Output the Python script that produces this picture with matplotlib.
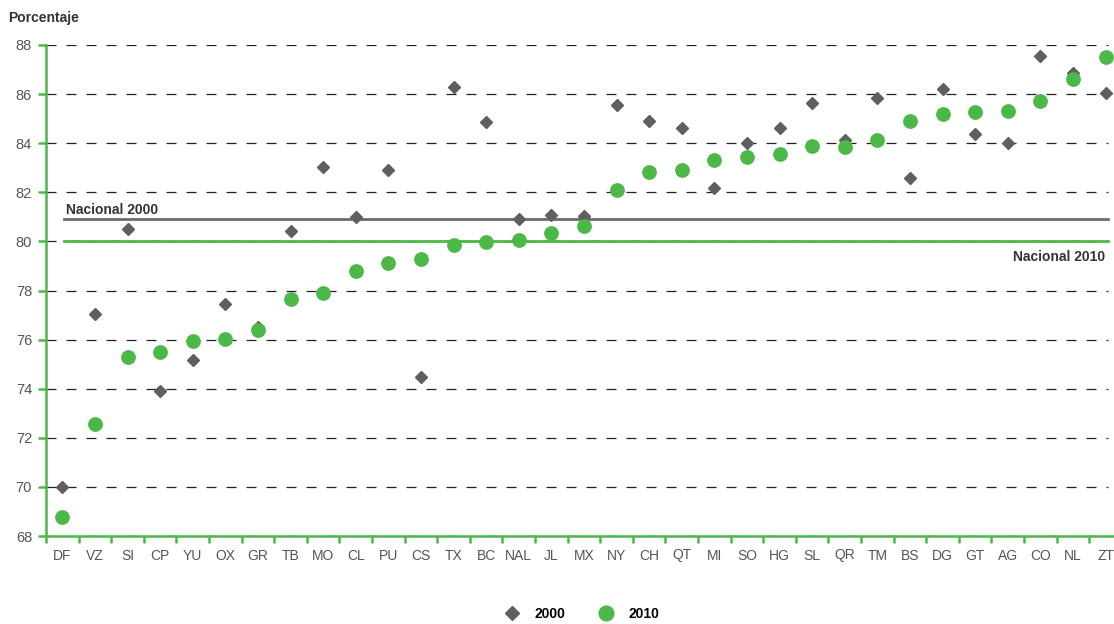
import numpy as np
import matplotlib.pyplot as plt

plt.rcParams['font.family'] = ['Liberation Sans', 'DejaVu Sans']

estados = ["DF", "VZ", "SI", "CP", "YU", "OX", "GR", "TB", "MO", "CL", "PU", "CS", "TX", "BC", "NAL",
           "JL", "MX", "NY", "CH", "QT", "MI", "SO", "HG", "SL", "QR", "TM", "BS", "DG", "GT", "AG",
           "CO", "NL", "ZT"]
v2000 = [70.0, 77.05, 80.5, 73.9, 75.15, 77.45, 76.5, 80.42, 83.05, 81.0, 82.9, 74.48, 86.3, 84.85, 80.92,
         81.08, 81.03, 85.56, 84.92, 84.63, 82.16, 84.0, 84.6, 85.65, 84.13, 85.83, 82.6, 86.21, 84.37, 84.0,
         87.55, 86.87, 86.03]
v2010 = [68.76, 72.58, 75.3, 75.51, 75.94, 76.04, 76.39, 77.64, 77.89, 78.81, 79.13, 79.27, 79.87, 79.96, 80.06,
         80.36, 80.63, 82.08, 82.84, 82.91, 83.32, 83.45, 83.55, 83.89, 83.86, 84.13, 84.9, 85.18, 85.26, 85.3,
         85.73, 86.6, 87.52]
nacional_2000 = 80.91
nacional_2010 = 80.0

verde = "#4cb848"
gris = "#5f5f5f"
x = np.arange(len(estados))

fig = plt.figure(figsize=(11.14, 6.24), dpi=100)
ax = fig.add_axes([46 / 1114, 1 - 536 / 624, 1 - 46 / 1114, (536 - 45) / 624])

ax.set_xticks(x)
ax.set_xticklabels(estados)
ax.set_xticks(np.arange(-0.5, 32.6, 1), minor=True)
ax.set_yticks(range(68, 90, 2))
# poner limites despues de los ticks (set_xticks amplia la vista)
ax.set_xlim(-0.5, 32.26)
ax.set_ylim(68, 88)

for yv in range(68, 90, 2):
    ax.axhline(yv, xmin=0, xmax=1062 / 1068, color="#222222", lw=0.9, ls=(0, (8, 8)), zorder=1)

ax.plot([0.05, 32.08], [nacional_2000, nacional_2000], color="#6b6b6b", lw=2.0, zorder=2)
ax.plot([0.05, 32.08], [nacional_2010, nacional_2010], color=verde, lw=2.0, zorder=2)
ax.text(0.1, nacional_2000 + 0.22, "Nacional 2000", fontsize=10, fontweight="bold", color="#333333")
ax.text(32.0, nacional_2010 - 0.35, "Nacional 2010", fontsize=10, fontweight="bold", color="#333333",
        ha="right", va="top")

ax.plot(x, v2000, ls="none", marker="D", ms=6.2, color=gris, zorder=3, label="2000")
ax.plot(x, v2010, ls="none", marker="o", ms=9.6, color=verde, zorder=4, label="2010")

ax.tick_params(axis="x", which="major", length=0, pad=9, labelsize=10, labelcolor="#555555")
ax.tick_params(axis="x", which="minor", length=5, width=1.8, color=verde)
ax.tick_params(axis="y", length=6, width=1.8, color=verde, labelsize=10.5, labelcolor="#555555", pad=4)

for s in ["top", "right"]:
    ax.spines[s].set_visible(False)
for s in ["left", "bottom"]:
    ax.spines[s].set_color(verde)
    ax.spines[s].set_linewidth(1.8)

fig.text(8 / 1114, 1 - 18 / 624, "Porcentaje", fontsize=10, fontweight="bold", color="#333333", va="center")

fig.legend(loc="center", bbox_to_anchor=(0.522, 0.016), ncol=2, frameon=False, markerscale=1.1,
           prop={"weight": "bold", "size": 10}, columnspacing=2.3, handletextpad=1.0, handlelength=1.2)

fig.savefig("out.png", dpi=100)
